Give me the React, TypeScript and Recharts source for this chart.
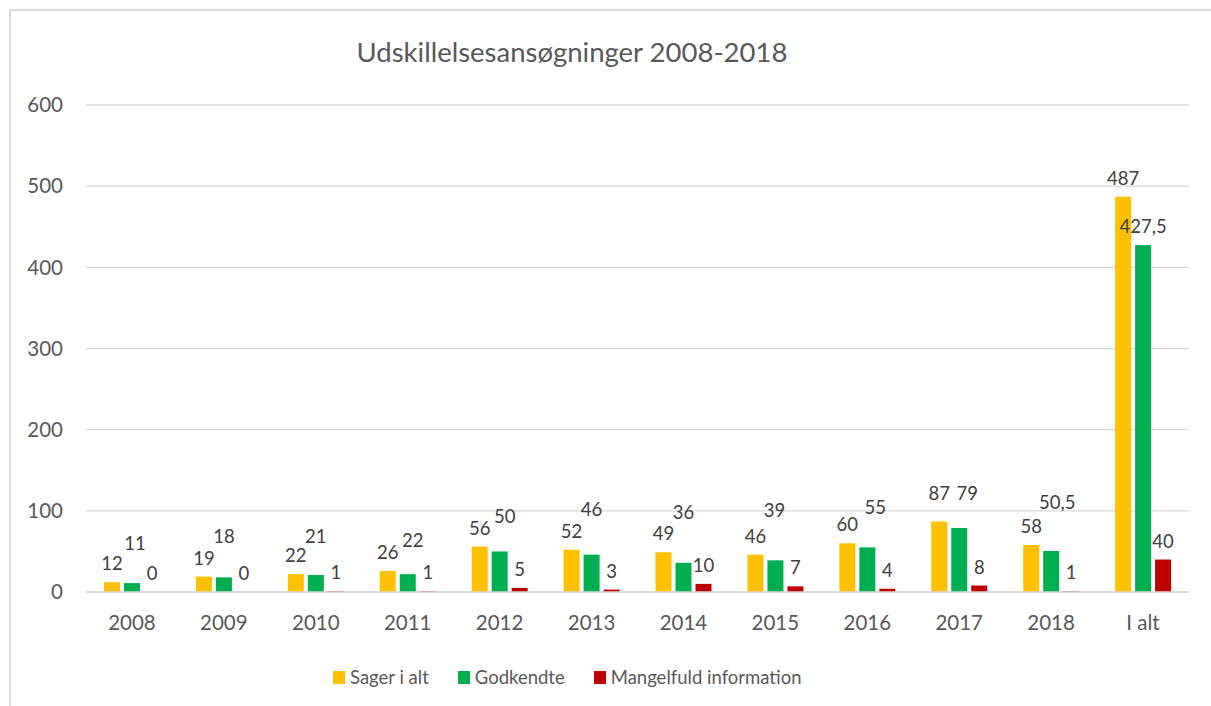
import React from 'react';
import { BarChart, Bar, XAxis, YAxis, CartesianGrid, LabelList } from 'recharts';

const years = ['2008', '2009', '2010', '2011', '2012', '2013', '2014', '2015', '2016', '2017', '2018', 'I alt'];
const sagerIAlt = [12, 19, 22, 26, 56, 52, 49, 46, 60, 87, 58, 487];
const godkendte = [11, 18, 21, 22, 50, 46, 36, 39, 55, 79, 50.5, 427.5];
const mangelfuld = [0, 0, 1, 1, 5, 3, 10, 7, 4, 8, 1, 40];
const yTicks = [0, 100, 200, 300, 400, 500, 600];

// hand-placed data labels in the original (extra lift / sideways shift, px)
const sagerLift = [0, 0, 0, 0, 0, 0, 0, 0, 0, 9, 0, 0];
const godkendteLift = [21, 22, 20, 15, 16, 27, 32, 31, 21, 16, 30, 0];
const godkendteShift = [3, 0, 0, 5, 5, 0, 0, -1, 8, 8, 6, 0];

const data = years.map((year, i) => ({
  year,
  sager: sagerIAlt[i],
  godkendte: godkendte[i],
  mangelfuld: mangelfuld[i],
}));

const legendItems = [
  { name: 'Sager i alt', color: '#FFC000' },
  { name: 'Godkendte', color: '#00B050' },
  { name: 'Mangelfuld information', color: '#C00000' },
];

const FONT = 'Lato, "Liberation Sans", sans-serif';

const makeLabel = (lift?: number[], shift?: number[]) => (props: any) => {
  const { x, y, width, value, index } = props;
  const dy = lift ? lift[index] : 0;
  const dx = shift ? shift[index] : 0;
  return (
    <text
      x={x + width / 2 + dx}
      y={y - 12 - dy}
      textAnchor="middle"
      fontSize={18.5}
      fontFamily={FONT}
      fill="#404040"
    >
      {String(value).replace('.', ',')}
    </text>
  );
};

// zero-valued bars get a hair of height so their "0" label is still drawn
const keepZero = (value: any) => (value === 0 ? 0.01 : 0);

export default function App() {
  return (
    <div
      style={{
        position: 'fixed',
        left: 0,
        top: 0,
        width: 1211,
        height: 706,
        overflow: 'hidden',
        background: '#fff',
        fontFamily: FONT,
      }}
    >
      <div
        style={{
          position: 'absolute',
          left: 9,
          top: 9,
          width: 1300,
          height: 800,
          borderLeft: '2px solid #d9d9d9',
          borderTop: '2px solid #d9d9d9',
        }}
      />
      <div
        style={{
          position: 'absolute',
          left: 0,
          top: 34,
          width: 1144,
          textAlign: 'center',
          fontSize: 27.5,
          color: '#595959',
          lineHeight: '36px',
        }}
      >
        Udskillelsesansøgninger 2008-2018
      </div>
      <div style={{ position: 'absolute', left: 0, top: 0 }}>
        <BarChart
          width={1211}
          height={706}
          data={data}
          margin={{ top: 105, right: 22, bottom: 74, left: 0 }}
          barGap={4}
          barSize={16}
        >
          <CartesianGrid vertical={false} stroke="#d9d9d9" strokeWidth={1.4} />
          <XAxis
            dataKey="year"
            height={40}
            tickLine={false}
            tickSize={0}
            tickMargin={23}
            axisLine={{ stroke: '#d9d9d9', strokeWidth: 1.4 }}
            tick={{ fill: '#595959', fontSize: 20.5, fontFamily: FONT }}
            interval={0}
          />
          <YAxis
            width={86}
            domain={[0, 600]}
            ticks={yTicks}
            tickLine={false}
            tickSize={0}
            tickMargin={23}
            axisLine={false}
            tick={{ fill: '#595959', fontSize: 20.5, fontFamily: FONT }}
          />
          <Bar dataKey="sager" fill="#FFC000" isAnimationActive={false} minPointSize={keepZero}>
            <LabelList dataKey="sager" content={makeLabel(sagerLift)} />
          </Bar>
          <Bar dataKey="godkendte" fill="#00B050" isAnimationActive={false} minPointSize={keepZero}>
            <LabelList dataKey="godkendte" content={makeLabel(godkendteLift, godkendteShift)} />
          </Bar>
          <Bar dataKey="mangelfuld" fill="#C00000" isAnimationActive={false} minPointSize={keepZero}>
            <LabelList dataKey="mangelfuld" content={makeLabel()} />
          </Bar>
        </BarChart>
      </div>
      <div
        style={{
          position: 'absolute',
          left: 333,
          top: 664,
          display: 'flex',
          alignItems: 'center',
          fontSize: 18.5,
          color: '#595959',
          lineHeight: '26px',
        }}
      >
        {legendItems.map((item, i) => (
          <div
            key={item.name}
            style={{ display: 'flex', alignItems: 'center', marginLeft: i === 0 ? 0 : 29 }}
          >
            <span
              style={{
                display: 'inline-block',
                width: 12,
                height: 13,
                background: item.color,
                marginRight: 5,
              }}
            />
            <span>{item.name}</span>
          </div>
        ))}
      </div>
    </div>
  );
}
